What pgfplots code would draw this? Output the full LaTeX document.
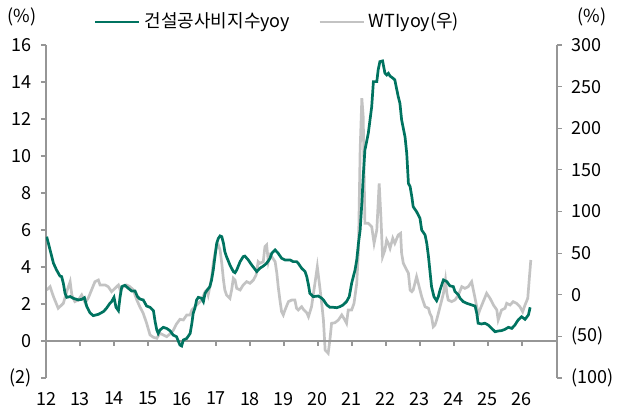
\documentclass[border=0pt]{standalone}
\usepackage{fontspec}
\setmainfont{Noto Sans CJK KR}
\usepackage{pgfplots}
\pgfplotsset{compat=1.18}
\definecolor{teal1}{RGB}{0,115,96}
\definecolor{gray1}{RGB}{195,195,195}
\definecolor{axisgray}{RGB}{150,150,150}
\begin{document}
\begin{tikzpicture}
\useasboundingbox (0,0) rectangle (308.5pt,205pt);
\pgfplotsset{common/.style={
  scale only axis, width=255.5pt, height=166.5pt,
  at={(23pt,16pt)}, anchor=south west,
  xmin=12, xmax=27.03,
  font=\fontsize{9}{10}\selectfont,
  /pgf/number format/assume math mode=true,
  tick align=outside, major tick length=2.5pt,
  every tick/.style={axisgray, line width=0.6pt},
  axis line style={axisgray, line width=0.6pt},
}}
% right axis: WTI yoy
\begin{axis}[common,
  axis y line*=right, axis x line=none,
  ymin=-100, ymax=300, ytick={-100,-50,...,300},
  yticklabels={(100),(50),0,50,100,150,200,250,300},
  yticklabel style={xshift=1pt, anchor=west},
]
\addplot[gray1, line width=1.35pt] coordinates {
(12.02,5.7)(12.12,9.7)(12.22,-2.3)(12.36,-16.3)(12.51,-10.3)(12.61,3.7)(12.71,15.7)(12.76,-0.3)(12.85,-8.3)(12.95,-6.3)
(13.05,-0.3)(13.15,-9.6)(13.24,-4.3)(13.34,5.7)(13.44,15.7)(13.54,17.7)(13.59,11.7)(13.74,11.7)(13.83,9.7)(13.93,3.7)
(14.03,7.7)(14.13,11.7)(14.18,5.7)(14.27,9.7)(14.37,11.7)(14.47,9.7)(14.57,5.7)(14.67,-6.3)(14.76,-14.4)(14.86,-22.3)(14.96,-34.3)
(15.06,-48.3)(15.16,-51.1)(15.26,-52.3)(15.35,-46.3)(15.45,-48.3)(15.55,-50.4)(15.65,-47)(15.74,-43)(15.84,-35)(15.94,-29.5)
(16.04,-30.3)(16.14,-24.3)(16.24,-24.3)(16.29,-18.3)(16.38,-14.4)(16.48,-10.3)(16.58,-6.3)(16.68,3.7)(16.73,5.7)(16.77,-0.3)(16.82,9.7)(16.87,19.8)(16.92,37.8)(16.97,49.8)
(17.02,57.7)(17.07,59.8)(17.12,53.8)(17.17,37.8)(17.22,17.7)(17.26,5.7)(17.31,-0.3)(17.36,-2.3)(17.41,-4.3)(17.46,5.7)(17.51,19.8)(17.56,17.7)(17.61,7.7)(17.71,5.7)(17.80,11.7)(17.90,15.7)
(18.00,13.7)(18.10,17.7)(18.18,23.7)(18.24,39.7)(18.29,37.8)(18.39,39.7)(18.44,57.7)(18.49,59.8)(18.54,39.7)(18.59,47.7)(18.64,45.7)(18.74,39.7)(18.79,25.8)(18.83,9.7)(18.88,-6.3)(18.93,-20.4)(18.98,-24.3)
(19.03,-18.3)(19.13,-8.3)(19.23,-6.3)(19.32,-6.3)(19.37,-16.3)(19.42,-18.3)(19.52,-14.4)(19.57,-17.5)(19.67,-21.6)(19.72,-26.4)(19.81,-14.4)(19.91,13.7)(19.98,33.7)
(20.04,13.7)(20.11,-10.3)(20.16,-30.3)(20.21,-66.4)(20.30,-70.3)(20.35,-54.4)(20.40,-34.3)(20.50,-33.6)(20.60,-30.3)(20.70,-24.3)(20.79,-30.3)(20.84,-34.3)(20.89,-18.3)(20.99,-18.3)
(21.06,-10.3)(21.14,13.7)(21.19,53.8)(21.24,173.9)(21.29,236)(21.33,213.9)(21.38,85.8)(21.48,85.8)(21.58,81.7)(21.65,61.8)(21.73,77.8)(21.80,133.8)(21.85,93.8)(21.90,45.7)(21.97,53.8)
(22.02,65.8)(22.07,61.8)(22.12,55.8)(22.20,67.8)(22.26,61.8)(22.36,71.8)(22.43,73.8)(22.46,49.8)(22.51,37.8)(22.61,29.7)(22.66,25.8)(22.71,5.7)(22.76,3.7)(22.80,5.7)(22.90,21.7)(22.95,13.7)
(23.05,-2.3)(23.15,-14.4)(23.25,-16.3)(23.29,-22.3)(23.34,-26.4)(23.39,-38.4)(23.44,-36.3)(23.49,-30.3)(23.59,-14.4)(23.69,1.7)(23.75,17.7)(23.79,1.7)(23.83,-6.3)(23.93,-8.3)
(24.03,-6.3)(24.13,-0.3)(24.23,9.7)(24.32,7.7)(24.42,9.7)(24.52,15.7)(24.57,5.7)(24.62,-4.3)(24.67,-14.4)(24.71,-24.3)(24.76,-18.3)(24.86,-8.3)(24.96,1.7)
(25.06,-4.3)(25.16,-12.3)(25.26,-18.3)(25.30,-30.3)(25.40,-18.3)(25.50,-16.3)(25.55,-10.3)(25.65,-12.3)(25.74,-8.3)(25.84,-10.3)(25.94,-14.4)
(26.02,-20.4)(26.09,-12.3)(26.17,-4.3)(26.22,21.7)(26.26,41.7)
};
\end{axis}
% left axis: construction cost index yoy
\begin{axis}[common,
  axis y line*=left, axis x line*=middle,
  hide obscured x ticks=false, hide obscured y ticks=false,
  ymin=-2, ymax=16, ytick={-2,0,...,16},
  yticklabels={(2),0,2,4,6,8,10,12,14,16},
  yticklabel style={xshift=-1pt, anchor=east},
  xtick={12,...,26},
  xticklabels={12,13,14,15,16,17,18,19,20,21,22,23,24,25,26},
  xticklabel style={yshift=-19.5pt},
  legend style={at={(0.455,1.069)}, anchor=center, draw=none, fill=none,
    legend columns=2, font=\fontsize{9}{10}\selectfont,
    /tikz/every even column/.append style={column sep=12pt}},
  legend image code/.code={\draw[#1] (0pt,0pt) -- (22pt,0pt);},
]
\addplot[teal1, line width=1.35pt] coordinates {
(12.02,5.64)(12.22,4.20)(12.31,3.84)(12.41,3.51)(12.46,3.48)(12.51,3.12)(12.56,2.58)(12.61,2.36)(12.71,2.40)(12.80,2.31)(12.95,2.22)
(13.05,2.25)(13.13,2.34)(13.20,1.86)(13.29,1.53)(13.39,1.37)(13.54,1.44)(13.69,1.59)(13.78,1.77)(13.88,2.04)(13.93,2.13)
(14.00,2.36)(14.06,1.82)(14.13,1.64)(14.18,2.40)(14.23,2.94)(14.32,3.01)(14.42,2.85)(14.52,2.70)(14.62,2.70)(14.69,2.40)(14.76,2.27)(14.86,2.22)(14.96,1.89)
(15.06,1.82)(15.16,1.64)(15.21,1.04)(15.26,0.59)(15.30,0.41)(15.35,0.59)(15.45,0.74)(15.55,0.68)(15.65,0.55)(15.74,0.32)(15.84,0.23)(15.94,-0.22)(15.99,-0.27)
(16.04,0.05)(16.14,0.14)(16.24,0.41)(16.29,0.95)(16.33,1.50)(16.38,1.77)(16.43,2.22)(16.48,2.36)(16.58,2.31)(16.63,2.13)(16.68,2.58)(16.73,2.72)(16.82,2.94)(16.87,3.30)(16.92,3.84)(16.97,4.56)
(17.02,5.28)(17.07,5.55)(17.12,5.68)(17.17,5.64)(17.22,5.28)(17.26,4.83)(17.31,4.56)(17.41,4.11)(17.51,3.75)(17.56,3.69)(17.61,3.84)(17.71,4.29)(17.80,4.56)(17.85,4.59)(17.95,4.38)
(18.05,4.11)(18.15,3.87)(18.20,3.75)(18.29,3.93)(18.39,4.05)(18.49,4.20)(18.59,4.47)(18.64,4.74)(18.74,4.92)(18.83,4.74)(18.93,4.47)
(19.03,4.38)(19.18,4.38)(19.27,4.29)(19.37,4.29)(19.42,4.20)(19.52,3.93)(19.62,3.75)(19.67,3.48)(19.72,3.03)(19.76,2.58)(19.86,2.40)
(20.01,2.43)(20.11,2.31)(20.16,2.22)(20.26,1.95)(20.35,1.82)(20.45,1.82)(20.55,1.80)(20.65,1.86)(20.74,1.95)(20.84,2.13)(20.92,2.40)(20.99,3.12)
(21.09,3.84)(21.14,4.38)(21.19,5.28)(21.24,6.00)(21.29,7.44)(21.33,8.88)(21.38,10.32)(21.48,11.23)(21.58,12.66)(21.63,14.02)(21.73,14.02)(21.77,14.65)(21.82,15.10)(21.90,15.14)(21.97,14.47)
(22.02,14.38)(22.07,14.47)(22.12,14.32)(22.21,14.20)(22.26,14.11)(22.36,13.21)(22.41,12.85)(22.46,11.95)(22.56,11.04)(22.61,10.15)(22.66,8.52)(22.71,8.34)(22.76,7.80)(22.80,7.26)(22.90,6.99)
(23.00,6.63)(23.05,6.00)(23.15,5.73)(23.20,5.28)(23.25,4.56)(23.29,3.84)(23.34,2.94)(23.41,2.40)(23.49,2.18)(23.54,2.40)(23.59,2.76)(23.69,3.30)(23.79,3.21)(23.88,2.98)(23.98,2.94)
(24.03,2.67)(24.13,2.49)(24.18,2.31)(24.27,2.13)(24.37,2.04)(24.52,1.95)(24.62,1.89)(24.67,1.50)(24.71,0.96)(24.81,0.92)(24.91,0.96)
(25.01,0.86)(25.11,0.68)(25.21,0.50)(25.30,0.54)(25.40,0.56)(25.50,0.63)(25.60,0.74)(25.70,0.68)(25.79,0.86)(25.89,1.14)(25.99,1.31)
(26.09,1.17)(26.19,1.41)(26.24,1.82)
};
\addlegendentry{건설공사비지수yoy}
\addlegendimage{gray1, line width=1.35pt}
\addlegendentry{WTIyoy(우)}
\end{axis}
\node[font=\fontsize{9}{10}\selectfont] at (11pt,196.5pt) {(\%)};
\node[font=\fontsize{9}{10}\selectfont] at (296pt,196.5pt) {(\%)};
\end{tikzpicture}
\end{document}
